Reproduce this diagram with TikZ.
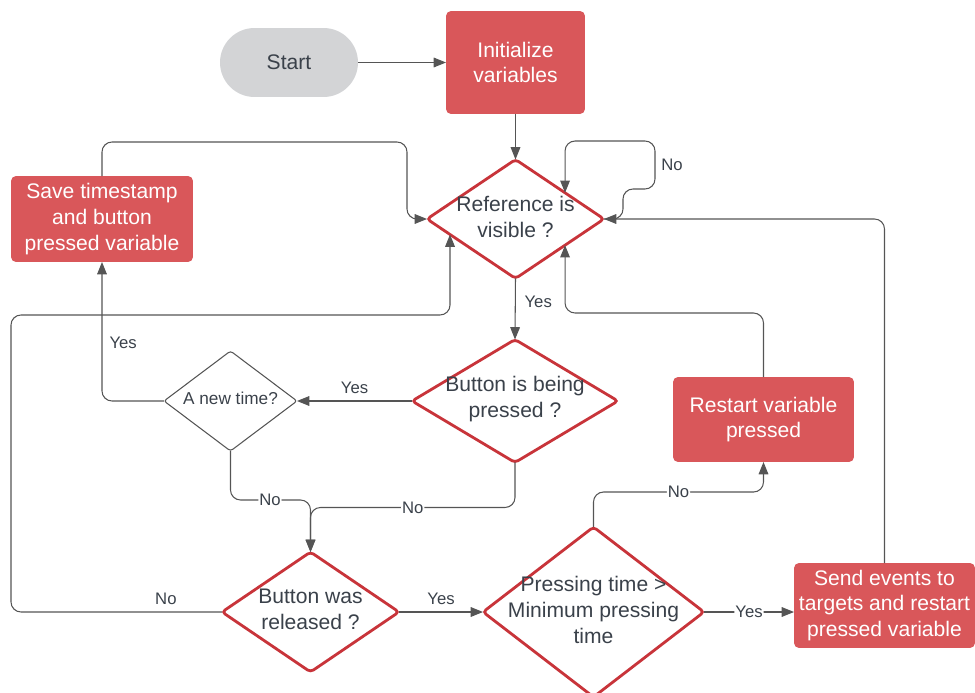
\documentclass[tikz,border=0pt]{standalone}
\usepackage{fontspec}
\setmainfont{Liberation Sans}
\usetikzlibrary{shapes.geometric,arrows.meta,calc}
\definecolor{redfill}{RGB}{217,87,90}
\definecolor{redline}{RGB}{200,52,58}
\definecolor{txt}{RGB}{58,65,74}
\definecolor{startfill}{RGB}{211,212,214}
\definecolor{linegray}{RGB}{85,85,85}
\begin{document}
\begin{tikzpicture}[x=0.02cm,y=-0.02cm,
  every node/.style={font=\fontsize{12}{14.7}\selectfont, text=txt},
  redbox/.style={rectangle, rounded corners=0.1cm, fill=redfill, text=white, align=center, inner sep=0pt, outer sep=0pt, minimum width=3.62cm, minimum height=1.7cm},
  startbox/.style={rectangle, rounded corners=0.69cm, fill=startfill, minimum width=2.76cm, minimum height=1.38cm, inner sep=0pt, outer sep=0pt},
  decision/.style={diamond, draw=redline, line width=1.6pt, rounded corners=2pt, inner sep=0pt, outer sep=0pt},
  smalldec/.style={diamond, draw=linegray, line width=0.6pt, rounded corners=1.5pt, inner sep=0pt, outer sep=0pt},
  dtext/.style={align=center, inner sep=0pt, yshift=1.3pt},
  link/.style={draw=linegray, line width=0.6pt, rounded corners=0.2cm, -{Triangle[length=7pt,width=5.5pt]}},
  lbl/.style={font=\fontsize{9.5}{11}\selectfont, inner sep=1pt},
  onl/.style={lbl, fill=white, inner sep=0.6pt}
]
\useasboundingbox (0,0) rectangle (975,693);

% nodes
\node[startbox] (start) at (289,62.5) {Start};
\node[redbox, minimum width=2.78cm, minimum height=2.06cm] (init) at (515.5,62.5) {Initialize\\variables};
\node[redbox, minimum width=3.64cm, minimum height=1.72cm] (save) at (102,219) {Save timestamp\\and button\\pressed variable};
\node[redbox] (restart) at (763.5,419.5) {Restart variable\\pressed};
\node[redbox] (send) at (884.5,605.5) {Send events to\\targets and restart\\pressed variable};

\node[decision, minimum width=3.54cm, minimum height=2.38cm] (R) at (515.5,219) {};
\node[dtext] (Rt) at (R) {Reference is\\visible ?};
\node[decision, minimum width=4.12cm, minimum height=2.46cm] (BP) at (515,401) {};
\node[dtext] (BPt) at (BP) {Button is being\\pressed ?};
\node[smalldec, minimum width=2.66cm, minimum height=2.0cm] (AN) at (230.5,401) {};
\node[dtext, font=\fontsize{9.8}{12}\selectfont] (ANt) at (AN) {A new time?};
\node[decision, minimum width=3.54cm, minimum height=2.4cm] (BR) at (310.5,612) {};
\node[dtext] (BRt) at (BR) {Button was\\released ?};
\node[decision, minimum width=4.42cm, minimum height=3.4cm] (PT) at (593.5,612) {};
\node[dtext] (PTt) at (PT) {Pressing time >\\Minimum pressing\\time};

% connectors
\draw[link] (start.east) -- (init.west);
\draw[link] (init.south) -- (R.north);
\draw[link] (R.east) -| (623,189) -| (655,141) -| ($(R.north)!0.56!(R.east)$);
\node[lbl] (nolbl) at (672,165) {No};
\draw[link] (send.north) |- (R.east);
\draw[link] (save.north) |- (407,142) |- (R.west);
\draw[link] (BR.west) -| (11,315) node[lbl, pos=0.133, above=3pt] {No}
  -| ($(R.west)!0.26!(R.south)$);
\draw[link] (restart.north) -- ++(0,-64) -| ($(R.south)!0.56!(R.east)$);
\draw[link] (R.south) -- (BP.north) node[lbl, pos=0.39, right=4pt] {Yes};
\draw[link] (BP.west) -- (AN.east) node[lbl, pos=0.5, above=3pt] {Yes};
\draw[link] (AN.west) -| (save.south) node[lbl, pos=0.71, right=3pt] {Yes};
\draw[link] (AN.south) -- ++(0,49) -| (BR.north) node[onl, pos=0.247] {No};
\draw[link] (BP.south) -- ++(0,45) -| (BR.north) node[onl, pos=0.25] {No};
\draw[link] (BR.east) -- (PT.west) node[lbl, pos=0.5, above=3pt] {Yes};
\draw[link] (PT.north) -- ++(0,-35) -| (restart.south) node[onl, pos=0.25] {No};
\draw[link] (PT.east) -- (PT.east -| send.west) node[onl, pos=0.5] {Yes};
\end{tikzpicture}
\end{document}
